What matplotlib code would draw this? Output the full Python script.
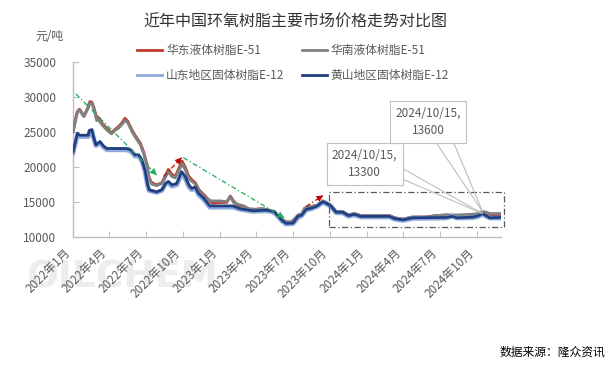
import matplotlib
matplotlib.use("Agg")
import matplotlib.pyplot as plt
import matplotlib.dates as mdates
from matplotlib.lines import Line2D
from matplotlib.patches import Rectangle
import pandas as pd

plt.rcParams['font.family'] = ['Noto Sans CJK SC', 'DejaVu Sans']

title = "近年中国环氧树脂主要市场价格走势对比图"
unit = "元/吨"
source = "数据来源：隆众资讯"
names = ["华东液体树脂E-51", "华南液体树脂E-51", "山东地区固体树脂E-12", "黄山地区固体树脂E-12"]
colors = ["#C0392B", "#808080", "#8EA9DB", "#1F3F7F"]

e51_dates = ["2022-01-01", "2022-01-08", "2022-01-12", "2022-01-17", "2022-01-23", "2022-01-28",
             "2022-02-06", "2022-02-12", "2022-02-17", "2022-02-22", "2022-03-01", "2022-03-06",
             "2022-03-14", "2022-03-27", "2022-04-07", "2022-04-15", "2022-04-24", "2022-05-02",
             "2022-05-10", "2022-05-17", "2022-05-27", "2022-06-04", "2022-06-17", "2022-06-25",
             "2022-07-04", "2022-07-09", "2022-07-16", "2022-07-28", "2022-08-10", "2022-08-18",
             "2022-08-26", "2022-09-04", "2022-09-12", "2022-09-20", "2022-09-29", "2022-10-07",
             "2022-10-16", "2022-10-24", "2022-11-01", "2022-11-10", "2022-11-22", "2022-11-30",
             "2022-12-13", "2023-01-02", "2023-01-18", "2023-01-27", "2023-02-04", "2023-02-16",
             "2023-03-01", "2023-03-14", "2023-03-31", "2023-04-16", "2023-05-03", "2023-05-19",
             "2023-06-04", "2023-06-15", "2023-06-28", "2023-07-07", "2023-07-15", "2023-07-23",
             "2023-07-31", "2023-08-08", "2023-08-31", "2023-09-14", "2023-09-22", "2023-10-04",
             "2023-10-17", "2023-11-02", "2023-11-17", "2023-12-01", "2023-12-18", "2024-02-27",
             "2024-03-10", "2024-03-31", "2024-04-24", "2024-05-27", "2024-06-20", "2024-07-16",
             "2024-08-17", "2024-09-21", "2024-10-05", "2024-10-15", "2024-10-24", "2024-11-02",
             "2024-11-16", "2024-11-29"]
huadong_e51 = [25000, 27000, 27900, 28200, 27700, 27200, 28300, 29300, 29200, 28400, 26900, 27000,
               26200, 25400, 24800, 25300, 25700, 26200, 26900, 26500, 25300, 24500, 23400, 22200,
               20300, 18400, 17700, 17400, 17700, 18600, 19600, 18900, 18600, 19600, 20800, 19900,
               18600, 18100, 17700, 16700, 16000, 15500, 14800, 14900, 14900, 15800, 15100, 14400,
               14300, 13900, 13900, 14000, 13800, 13200, 12500, 12100, 12100, 12600, 13100, 13200,
               14000, 14200, 14500, 15100, 14900, 14500, 13600, 13600, 13100, 13300, 13000, 13000,
               12700, 12500, 12800, 12800, 13000, 13100, 13000, 13100, 13200, 13500, 13300, 13000,
               13100, 13100]
huanan_e51 = [25000, 26800, 27800, 28100, 27600, 27200, 28200, 29100, 29000, 28300, 26600, 26700,
              26000, 25200, 24700, 25200, 25500, 26000, 26600, 26300, 25100, 24300, 23200, 22000,
              20100, 18200, 17500, 17300, 17600, 18400, 19300, 18600, 18400, 19300, 20400, 19600,
              18300, 17900, 17500, 16500, 15800, 15300, 15100, 15100, 15000, 15700, 14900, 14600,
              14400, 14000, 13900, 14000, 13800, 13200, 12500, 12100, 12100, 12600, 13100, 13200,
              14100, 14200, 14500, 15100, 14900, 14500, 13600, 13600, 13100, 13300, 13000, 13000,
              12700, 12500, 12800, 12800, 13000, 13100, 13100, 13200, 13300, 13600, 13500, 13300,
              13300, 13300]

e12_dates = ["2022-01-01", "2022-01-06", "2022-01-12", "2022-01-17", "2022-02-08", "2022-02-11",
             "2022-02-17", "2022-02-20", "2022-02-27", "2022-03-09", "2022-03-17", "2022-03-26",
             "2022-05-14", "2022-05-25", "2022-06-04", "2022-06-13", "2022-06-21", "2022-06-29",
             "2022-07-05", "2022-07-09", "2022-07-28", "2022-08-10", "2022-08-19", "2022-08-26",
             "2022-09-04", "2022-09-16", "2022-09-28", "2022-10-07", "2022-10-16", "2022-10-23",
             "2022-11-01", "2022-11-09", "2022-11-22", "2022-12-07", "2023-02-03", "2023-02-20",
             "2023-03-25", "2023-04-26", "2023-05-16", "2023-06-05", "2023-06-15", "2023-07-02",
             "2023-07-14", "2023-07-24", "2023-08-03", "2023-08-18", "2023-08-31", "2023-09-14",
             "2023-09-22", "2023-10-04", "2023-10-17", "2023-11-02", "2023-11-17", "2023-12-01",
             "2023-12-18", "2024-02-27", "2024-03-10", "2024-03-31", "2024-04-24", "2024-07-16",
             "2024-08-02", "2024-08-12", "2024-09-21", "2024-10-05", "2024-10-15", "2024-10-24",
             "2024-11-02", "2024-11-29"]
huangshan_e12 = [22100, 23300, 24800, 24500, 24500, 25200, 25300, 24500, 23100, 23600, 23000, 22600,
                 22600, 22400, 21700, 21700, 21000, 19500, 17600, 16700, 16400, 16700, 17600, 17900,
                 17400, 17600, 19300, 18600, 17400, 16900, 17100, 16200, 15500, 14400, 14400, 14000,
                 13700, 13800, 13600, 12300, 11900, 11950, 12900, 13100, 13900, 14100, 14400, 15000,
                 14800, 14400, 13500, 13500, 13000, 13200, 12900, 12900, 12600, 12400, 12700, 12750,
                 12900, 12700, 12800, 13000, 13300, 13000, 12700, 12750]
shandong_e12 = [21900, 23100, 24500, 24300, 24300, 25000, 25100, 24300, 23000, 23400, 22800, 22400,
                22400, 22200, 21500, 21500, 20800, 19300, 17400, 16600, 16300, 16600, 17500, 17700,
                17200, 17400, 19000, 18300, 17100, 16700, 16900, 16000, 15300, 14200, 14200, 13900,
                13600, 13700, 13500, 12200, 11800, 11850, 12700, 13000, 13800, 14000, 14300, 14900,
                14700, 14300, 13400, 13400, 12900, 13100, 12800, 12800, 12500, 12300, 12600, 12650,
                12900, 12650, 12700, 12900, 13200, 12900, 12650, 12650]

tick_dates = ["2022-01-01", "2022-04-01", "2022-07-01", "2022-10-01", "2023-01-01", "2023-04-01",
              "2023-07-01", "2023-10-01", "2024-01-01", "2024-04-01", "2024-07-01", "2024-10-01"]
tick_labels = ["2022年1月", "2022年4月", "2022年7月", "2022年10月", "2023年1月", "2023年4月",
               "2023年7月", "2023年10月", "2024年1月", "2024年4月", "2024年7月", "2024年10月"]
y_ticks = [10000, 15000, 20000, 25000, 30000, 35000]

# trend arrows: (start date, start value, end date, end value, colour)
trends = [("2022-01-08", 30400, "2022-07-28", 18800, "#1AAF54"),
          ("2022-08-14", 18600, "2022-09-28", 21300, "#C00000"),
          ("2022-10-02", 21300, "2023-06-10", 12700, "#1AAF54"),
          ("2023-08-03", 14300, "2023-09-15", 15900, "#C00000")]
box_range = ("2023-09-29", "2024-12-07", 11430, 16430)
callouts = [("2024-10-15", 13300, "2024/10/15,\n13300"),
            ("2024-10-15", 13600, "2024/10/15,\n13600")]

W, H = 612, 369
fig = plt.figure(figsize=(W / 100, H / 100), dpi=100)
ax = fig.add_axes([73 / W, 1 - 236.7 / H, 428 / W, 175 / H])

def fpx(x, y):
    return (x / W, 1 - y / H)

d51 = pd.to_datetime(e51_dates)
d12 = pd.to_datetime(e12_dates)
ax.plot(d51, huadong_e51, color=colors[0], lw=2.1, zorder=3, solid_joinstyle='round')
ax.plot(d51, huanan_e51, color=colors[1], lw=2.1, zorder=4, solid_joinstyle='round')
ax.plot(d12, shandong_e12, color=colors[2], lw=3.3, zorder=5, solid_joinstyle='round')
ax.plot(d12, huangshan_e12, color=colors[3], lw=2.0, zorder=6, solid_joinstyle='round')

ax.set_ylim(10000, 35000)
ax.set_xlim(pd.Timestamp("2022-01-01"), pd.Timestamp("2024-11-30"))
ax.set_yticks(y_ticks)
ax.set_yticklabels([str(v) for v in y_ticks])
ax.set_xticks(pd.to_datetime(tick_dates))
ax.set_xticklabels(tick_labels, rotation=45, ha='right', va='top')
ax.tick_params(axis='both', direction='in', length=4, width=0.8, color='#BFBFBF',
               labelcolor='#595959', labelsize=8.5)
ax.tick_params(axis='x', pad=7)
ax.tick_params(axis='y', pad=12)
for s in ['top', 'right']:
    ax.spines[s].set_visible(False)
for s in ['left', 'bottom']:
    ax.spines[s].set_color('#BFBFBF')
    ax.spines[s].set_linewidth(1.0)
ax.patch.set_alpha(0)

# trend arrows
for sd, sv, ed, ev, c in trends:
    s_t, e_t = pd.Timestamp(sd), pd.Timestamp(ed)
    ax.plot([s_t, e_t], [sv, ev], color=c, lw=0.9, ls=(0, (4, 2, 1, 2)), zorder=7)
    back = e_t - (e_t - s_t) * 0.06
    backv = ev - (ev - sv) * 0.06
    ax.annotate('', xy=(e_t, ev), xytext=(back, backv),
                arrowprops=dict(arrowstyle='-|>', color=c, lw=0, mutation_scale=12,
                                shrinkA=0, shrinkB=0), zorder=8)

# dash-dot box
bx0, bx1 = mdates.date2num(pd.Timestamp(box_range[0])), mdates.date2num(pd.Timestamp(box_range[1]))
ax.add_patch(Rectangle((bx0, box_range[2]), bx1 - bx0, box_range[3] - box_range[2],
                       fill=False, ec='#595959', lw=0.9, ls=(0, (5, 2, 1, 2)),
                       clip_on=False, zorder=9))

# callouts
box_pos = [(364.5, 164), (428, 122)]
leader_pts = [[(400, 167), (400, 178)], [(435, 141), (453, 141)]]
for (dt, v, txt), (cx, cy), pts in zip(callouts, box_pos, leader_pts):
    for (lx, ly) in pts:
        ax.annotate('', xy=(pd.Timestamp(dt), v), xycoords='data',
                    xytext=(lx, H - ly), textcoords='figure pixels',
                    arrowprops=dict(arrowstyle='-', color='#BFBFBF', lw=0.8,
                                    shrinkA=0, shrinkB=0), zorder=10)
    fig.text(cx / W, 1 - cy / H, txt, ha='center', va='center', fontsize=8.5,
             color='#595959', linespacing=1.45, zorder=11,
             bbox=dict(boxstyle='square,pad=0.45', fc='white', ec='#BFBFBF', lw=0.8))

# title, unit, source
fig.text(*fpx(295, 22), title, ha='center', va='center', fontsize=11.5, color='#333333')
fig.text(*fpx(49, 37), unit, ha='center', va='center', fontsize=8.5, color='#595959')
fig.text(*fpx(605, 352), source, ha='right', va='center', fontsize=8.5, color='black')

# watermark (behind everything)
fig.text(*fpx(122, 278), "OILCHEM", ha='center', va='center', fontsize=27,
         fontweight='bold', color='#EDEDED', family='DejaVu Sans', zorder=-1)

# legend (manual)
leg = [(137, 162, 166, 50), (302, 327, 330, 50), (137, 162, 166, 75), (302, 327, 330, 75)]
for (x0, x1, tx, y), name, c in zip(leg, names, colors):
    fig.add_artist(Line2D([x0 / W, x1 / W], [1 - y / H, 1 - y / H], color=c, lw=2.0,
                          transform=fig.transFigure))
    fig.text(*fpx(tx, y), name, ha='left', va='center', fontsize=8.5, color='#595959')

fig.savefig("out.png", dpi=100)
